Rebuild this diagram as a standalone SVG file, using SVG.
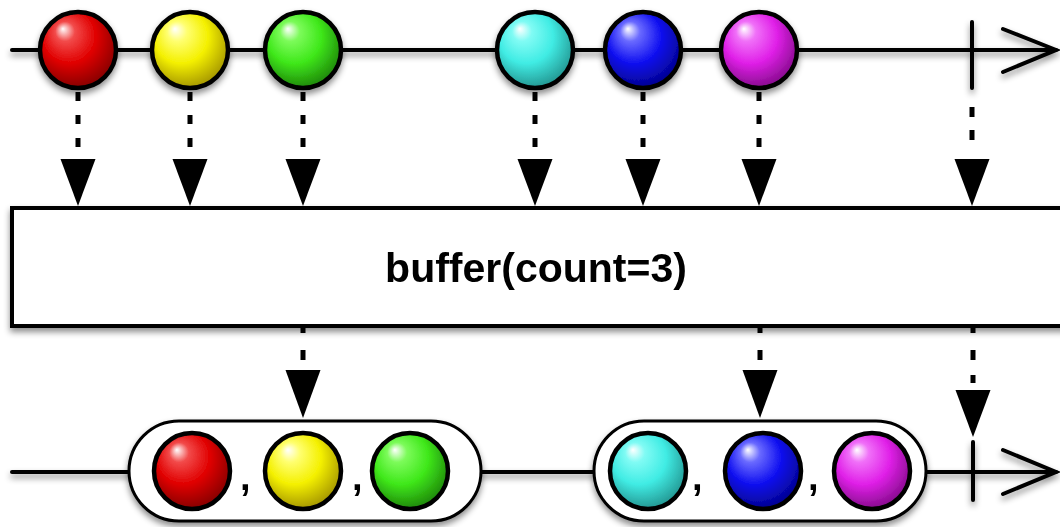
<svg xmlns="http://www.w3.org/2000/svg" width="1060" height="527" viewBox="0 0 1060 527">
<defs>
<filter id="sh" x="-20%" y="-20%" width="140%" height="160%">
<feDropShadow dx="0" dy="4" stdDeviation="3" flood-color="#000" flood-opacity="0.45"/>
</filter>
<radialGradient id="gRed" cx="0.45" cy="0.4" r="0.65" fx="0.3" fy="0.22">
<stop offset="0" stop-color="#ffffff"/><stop offset="0.2" stop-color="#f24a4a"/><stop offset="0.55" stop-color="#e00000"/><stop offset="1" stop-color="#7a0000"/>
</radialGradient>
<radialGradient id="gYel" cx="0.45" cy="0.4" r="0.65" fx="0.3" fy="0.22">
<stop offset="0" stop-color="#ffffff"/><stop offset="0.2" stop-color="#ffff70"/><stop offset="0.55" stop-color="#f4f000"/><stop offset="1" stop-color="#9a8a00"/>
</radialGradient>
<radialGradient id="gGrn" cx="0.45" cy="0.4" r="0.65" fx="0.3" fy="0.22">
<stop offset="0" stop-color="#ffffff"/><stop offset="0.2" stop-color="#7cfb5a"/><stop offset="0.55" stop-color="#3fe81a"/><stop offset="1" stop-color="#1a7a08"/>
</radialGradient>
<radialGradient id="gCyn" cx="0.45" cy="0.4" r="0.65" fx="0.3" fy="0.22">
<stop offset="0" stop-color="#ffffff"/><stop offset="0.2" stop-color="#80fbf4"/><stop offset="0.55" stop-color="#40ece4"/><stop offset="1" stop-color="#1f8a86"/>
</radialGradient>
<radialGradient id="gBlu" cx="0.45" cy="0.4" r="0.65" fx="0.3" fy="0.22">
<stop offset="0" stop-color="#ffffff"/><stop offset="0.2" stop-color="#6a6aff"/><stop offset="0.55" stop-color="#1010f0"/><stop offset="1" stop-color="#000080"/>
</radialGradient>
<radialGradient id="gMag" cx="0.45" cy="0.4" r="0.65" fx="0.3" fy="0.22">
<stop offset="0" stop-color="#ffffff"/><stop offset="0.2" stop-color="#f070f8"/><stop offset="0.55" stop-color="#e020e8"/><stop offset="1" stop-color="#7a0880"/>
</radialGradient>
</defs>
<style>
.ln{stroke:#000;stroke-width:4;fill:none;stroke-linecap:round}
.ball{stroke:#000;stroke-width:4.5}
.dash{stroke:#000;stroke-width:5;stroke-dasharray:9 14;stroke-linecap:butt;fill:none}
.tri{fill:#000}
.cap{fill:#fff;stroke:#000;stroke-width:3}
.comma{font-family:"Liberation Sans",Arial,sans-serif;font-weight:bold;font-size:38px;fill:#000}
.lbl{font-family:"Liberation Sans",Arial,sans-serif;font-weight:bold;font-size:41px;fill:#000}
</style>
<rect width="1060" height="527" fill="#fff"/>

<g id="source-timeline" filter="url(#sh)">
<line class="ln" x1="12" y1="50" x2="1056" y2="50"/>
<line class="ln" x1="972" y1="22" x2="972" y2="88"/>
<polyline class="ln" points="1003,29 1056,50 1003,72"/>
</g>
<g id="src-red" filter="url(#sh)"><circle class="ball" cx="78" cy="50" r="38" fill="url(#gRed)"/></g>
<g id="src-yellow" filter="url(#sh)"><circle class="ball" cx="190" cy="50" r="38" fill="url(#gYel)"/></g>
<g id="src-green" filter="url(#sh)"><circle class="ball" cx="303" cy="50" r="38" fill="url(#gGrn)"/></g>
<g id="src-cyan" filter="url(#sh)"><circle class="ball" cx="535" cy="50" r="38" fill="url(#gCyn)"/></g>
<g id="src-blue" filter="url(#sh)"><circle class="ball" cx="643" cy="50" r="38" fill="url(#gBlu)"/></g>
<g id="src-magenta" filter="url(#sh)"><circle class="ball" cx="759" cy="50" r="38" fill="url(#gMag)"/></g>

<g id="operator" filter="url(#sh)">
<rect x="12" y="208" width="1060" height="118" fill="#fff" stroke="#000" stroke-width="4"/>
<text class="lbl" x="536" y="282" text-anchor="middle">buffer(count=3)</text>
</g>

<g id="connectors">
<line class="dash" x1="78" y1="92" x2="78" y2="155"/>
<path class="tri" d="M60.5 159 L95.5 159 L78 206 Z"/>
<line class="dash" x1="190" y1="92" x2="190" y2="155"/>
<path class="tri" d="M172.5 159 L207.5 159 L190 206 Z"/>
<line class="dash" x1="303" y1="92" x2="303" y2="155"/>
<path class="tri" d="M285.5 159 L320.5 159 L303 206 Z"/>
<line class="dash" x1="535" y1="92" x2="535" y2="155"/>
<path class="tri" d="M517.5 159 L552.5 159 L535 206 Z"/>
<line class="dash" x1="643" y1="92" x2="643" y2="155"/>
<path class="tri" d="M625.5 159 L660.5 159 L643 206 Z"/>
<line class="dash" x1="759" y1="92" x2="759" y2="155"/>
<path class="tri" d="M741.5 159 L776.5 159 L759 206 Z"/>
<line class="dash" x1="972" y1="107" x2="972" y2="150" style="stroke-dasharray:10 13"/>
<path class="tri" d="M954.5 159 L989.5 159 L972 206 Z"/>

<line class="dash" x1="303" y1="328" x2="303" y2="365" style="stroke-dasharray:5 17 10 20"/>
<path class="tri" d="M285.5 370 L320.5 370 L303 418 Z"/>
<line class="dash" x1="760" y1="328" x2="760" y2="365" style="stroke-dasharray:5 17 10 20"/>
<path class="tri" d="M742.5 370 L777.5 370 L760 418 Z"/>
<line class="dash" x1="973" y1="328" x2="973" y2="386" style="stroke-dasharray:5 17 10 15 8 20"/>
<path class="tri" d="M955.5 390 L990.5 390 L973 437 Z"/>
</g>

<g id="result-timeline" filter="url(#sh)">
<line class="ln" x1="12" y1="472" x2="1056" y2="472"/>
<line class="ln" x1="973" y1="442" x2="973" y2="500"/>
<polyline class="ln" points="1003,450 1056,472 1003,494"/>
</g>

<g id="buffer-1" filter="url(#sh)">
<rect class="cap" x="129" y="421" width="352" height="100" rx="50"/>
<circle class="ball" cx="192" cy="471" r="38" fill="url(#gRed)"/>
<text class="comma" x="240" y="490">,</text>
<circle class="ball" cx="303" cy="471" r="38" fill="url(#gYel)"/>
<text class="comma" x="352" y="490">,</text>
<circle class="ball" cx="410" cy="471" r="38" fill="url(#gGrn)"/>
</g>

<g id="buffer-2" filter="url(#sh)">
<rect class="cap" x="594" y="421" width="332" height="100" rx="50"/>
<circle class="ball" cx="648" cy="471" r="38" fill="url(#gCyn)"/>
<text class="comma" x="692" y="490">,</text>
<circle class="ball" cx="763" cy="471" r="38" fill="url(#gBlu)"/>
<text class="comma" x="808" y="490">,</text>
<circle class="ball" cx="872" cy="471" r="38" fill="url(#gMag)"/>
</g>
</svg>
